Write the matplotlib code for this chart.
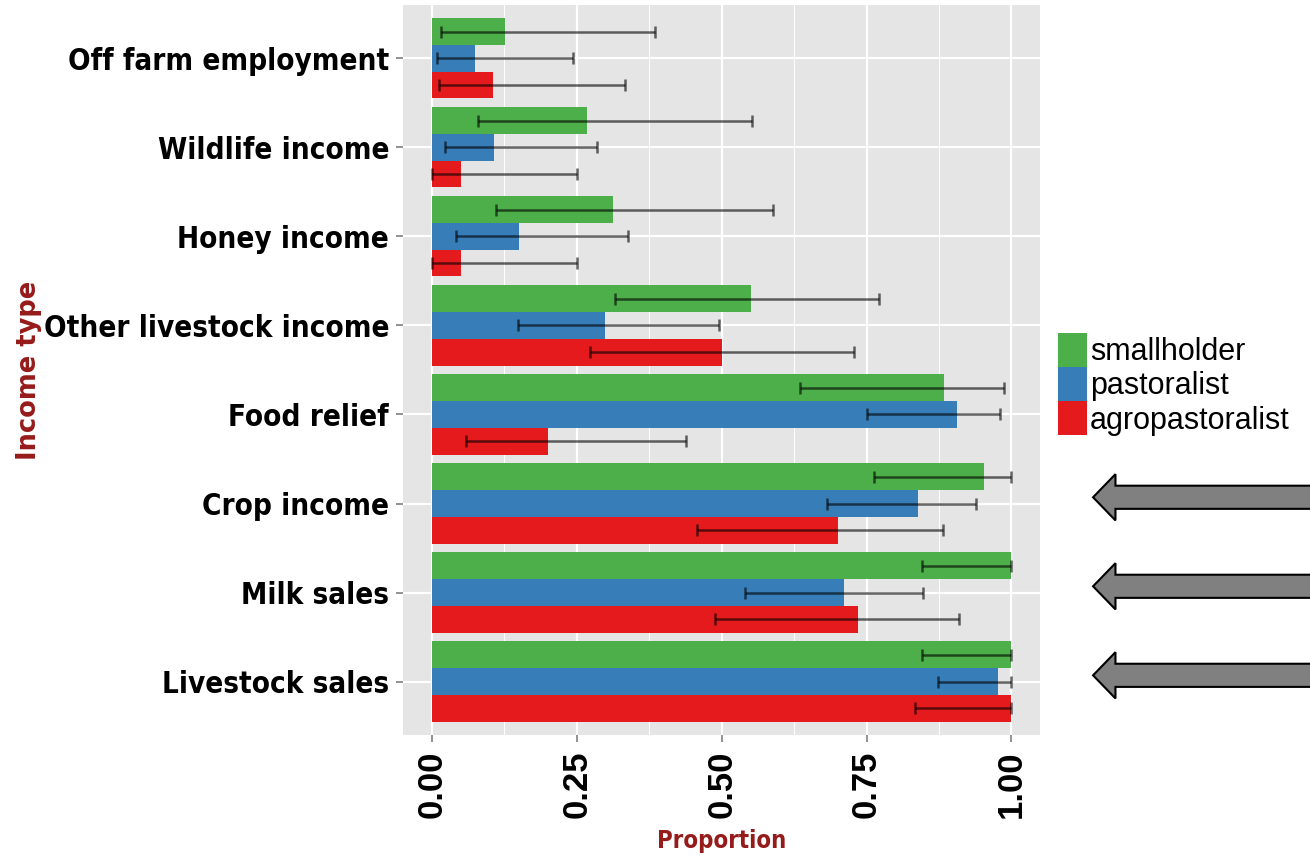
import matplotlib
matplotlib.use("Agg")
import matplotlib.pyplot as plt
import matplotlib.transforms as mtransforms
from matplotlib.patches import Polygon, Patch
from matplotlib.font_manager import FontProperties, fontManager
import numpy as np

# Income categories, listed bottom to top on the flipped axis
categories = ["Livestock sales", "Milk sales", "Crop income", "Food relief",
              "Other livestock income", "Honey income", "Wildlife income",
              "Off farm employment"]
groups = ["agropastoralist", "pastoralist", "smallholder"]
colors = {"agropastoralist": "#E41A1C", "pastoralist": "#377EB8",
          "smallholder": "#4DAF4A"}

# Proportion of households and confidence limits, per group
agro_mean = [1.000, 0.736, 0.701, 0.200, 0.500, 0.050, 0.050, 0.105]
agro_low = [0.833, 0.488, 0.457, 0.058, 0.273, 0.000, 0.000, 0.013]
agro_high = [1.000, 0.910, 0.882, 0.438, 0.729, 0.250, 0.251, 0.333]

past_mean = [0.976, 0.711, 0.839, 0.906, 0.299, 0.150, 0.107, 0.074]
past_low = [0.873, 0.541, 0.681, 0.750, 0.148, 0.042, 0.023, 0.009]
past_high = [1.000, 0.847, 0.939, 0.981, 0.495, 0.339, 0.284, 0.244]

small_mean = [1.000, 1.000, 0.953, 0.883, 0.551, 0.312, 0.268, 0.126]
small_low = [0.846, 0.846, 0.762, 0.636, 0.316, 0.111, 0.079, 0.016]
small_high = [1.000, 1.000, 1.000, 0.987, 0.771, 0.588, 0.553, 0.385]

x_ticks = [0.00, 0.25, 0.50, 0.75, 1.00]
x_tick_labels = ["0.00", "0.25", "0.50", "0.75", "1.00"]

# Categories flagged with arrows on the right-hand side
highlighted = ["Crop income", "Milk sales", "Livestock sales"]

series = {
    "agropastoralist": (agro_mean, agro_low, agro_high),
    "pastoralist": (past_mean, past_low, past_high),
    "smallholder": (small_mean, small_low, small_high),
}


def condensed_bold():
    """Pick a narrow/condensed bold face if one is installed."""
    entries = fontManager.ttflist

    def is_bold(f):
        w = f.weight
        return (w >= 700) if isinstance(w, int) else str(w).lower() == "bold"

    for key in ("Liberation Sans Narrow", "Arial Narrow"):
        for f in entries:
            if f.name == key and is_bold(f) and f.style == "normal":
                return FontProperties(fname=f.fname)
    for f in entries:
        fn = f.fname.lower()
        if ("condensedbold" in fn.replace("-", "").replace("_", "")
                and "extra" not in fn and "semi" not in fn
                and "italic" not in fn and "sans" in fn
                and "mono" not in fn and "serif" not in fn):
            return FontProperties(fname=f.fname)
    return FontProperties(family="Liberation Sans", weight="bold")


fig = plt.figure(figsize=(13.10, 8.59), dpi=100)
ax = fig.add_axes([0.3076, 0.1444, 0.4866, 0.8498])
ax.set_facecolor("#E5E5E5")
renderer = fig.canvas.get_renderer()

narrow = condensed_bold()


def fitted_size(text, target_px, base=20.0):
    fp = narrow.copy()
    fp.set_size(base)
    t = fig.text(0, 0, text, fontproperties=fp)
    w = t.get_window_extent(renderer).width
    t.remove()
    return base * target_px / w


ytick_size = min(fitted_size("Off farm employment", 321), 30)
title_size = min(fitted_size("Proportion", 130), 28)

ypos = np.arange(1, len(categories) + 1)
bar_h = 0.3
offsets = {"agropastoralist": -0.3, "pastoralist": 0.0, "smallholder": 0.3}

for g in groups:
    mean, low, high = (np.array(v) for v in series[g])
    y = ypos + offsets[g]
    ax.barh(y, mean, height=bar_h, color=colors[g], zorder=2)
    ax.errorbar(mean, y, xerr=[mean - low, high - mean], fmt="none",
                ecolor="black", elinewidth=1.8, capsize=4, capthick=1.8,
                alpha=0.6, zorder=3)

ax.set_xlim(-0.05, 1.05)
ax.set_ylim(0.4, len(categories) + 0.6)

ax.set_xticks(x_ticks)
ax.set_xticks([0.125, 0.375, 0.625, 0.875], minor=True)
ax.set_xticklabels(x_tick_labels, rotation=90, fontsize=25,
                   fontweight="bold", family="Liberation Sans")
ax.set_yticks(ypos)
ytick_fp = narrow.copy()
ytick_fp.set_size(ytick_size)
ax.set_yticklabels(categories, fontproperties=ytick_fp)

ax.grid(True, which="major", color="white", linewidth=1.6, zorder=0)
ax.grid(True, which="minor", axis="x", color="white", linewidth=0.7, zorder=0)
ax.set_axisbelow(True)
ax.tick_params(axis="both", which="major", color="#7F7F7F", length=5,
               width=1.2)
ax.tick_params(axis="x", which="major", pad=6)
ax.tick_params(axis="y", which="major", pad=5)
ax.tick_params(axis="both", which="minor", length=0)
for s in ax.spines.values():
    s.set_visible(False)

title_fp = narrow.copy()
title_fp.set_size(title_size)
ax.set_xlabel("Proportion", fontproperties=title_fp, color="#961B1B",
              labelpad=8)
fig.text(0.0225, ax.get_position().y0 + ax.get_position().height / 2,
         "Income type", rotation=90, fontsize=18.5, fontweight="bold",
         family="DejaVu Sans", color="#961B1B", ha="center", va="center")

# Legend: green on top, then blue, then red
handles = [Patch(facecolor=colors[g], edgecolor="none") for g in groups[::-1]]
fig.legend(handles, groups[::-1], loc="upper left",
           bbox_to_anchor=(0.8076, 0.6123), frameon=False,
           prop={"family": "Liberation Sans", "size": 22},
           handlelength=0.95, handleheight=1.33, handletextpad=0.1,
           labelspacing=0.0, borderpad=0, borderaxespad=0)

# Block arrows pointing at the highlighted categories
trans = mtransforms.blended_transform_factory(fig.transFigure, ax.transData)
tip_x, head_x, tail_x = 0.8344, 0.8515, 1.01
head_half, shaft_half = 0.26, 0.13
for cat in highlighted:
    yc = categories.index(cat) + 1 + 0.07
    pts = [(tip_x, yc), (head_x, yc + head_half), (head_x, yc + shaft_half),
           (tail_x, yc + shaft_half), (tail_x, yc - shaft_half),
           (head_x, yc - shaft_half), (head_x, yc - head_half)]
    ax.add_patch(Polygon(pts, closed=True, facecolor="#808080",
                         edgecolor="black", linewidth=1.5,
                         transform=trans, clip_on=False, zorder=5))

fig.savefig("out.png", dpi=100, facecolor="white")
